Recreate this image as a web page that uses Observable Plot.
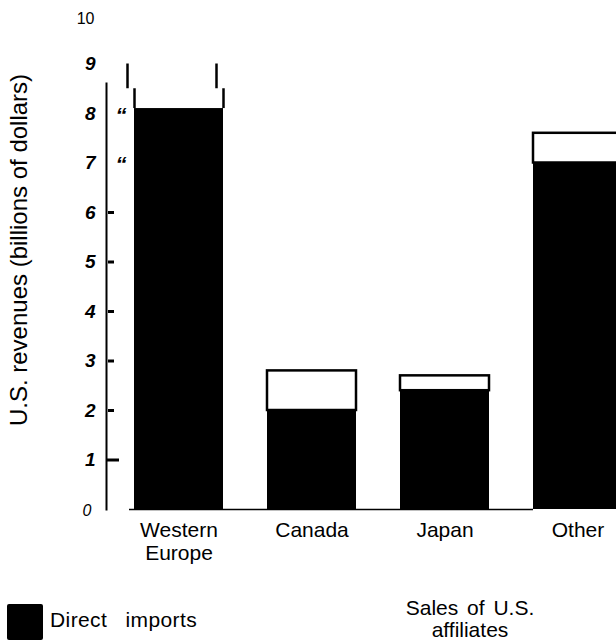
<!DOCTYPE html>
<html><head><meta charset="utf-8">
<script src="https://cdn.jsdelivr.net/npm/d3@7"></script>
<script src="https://cdn.jsdelivr.net/npm/@observablehq/plot@0.6"></script>
<style>
body{margin:0;background:#fff;font-family:"Liberation Sans",Arial,sans-serif;color:#000;}
#wrap{position:relative;width:616px;height:644px;overflow:hidden;background:#fff;}
#chart{position:absolute;left:0;top:0;}
.sw{position:absolute;left:7px;top:604px;width:36px;height:36px;background:#000;border-radius:2px;}
.lg1{position:absolute;left:50px;top:609px;font-size:21px;line-height:21px;word-spacing:12px;letter-spacing:0.4px;white-space:nowrap;}
.lg2{position:absolute;left:370px;top:597px;width:200px;text-align:center;font-size:21px;line-height:22px;word-spacing:3px;}
</style></head><body>
<div id="wrap"><div id="chart"></div>
<div class="sw"></div>
<div class="lg1">Direct imports</div>
<div class="lg2">Sales of U.S.<br>affiliates</div>
</div>
<script>
// Data (billions of dollars)
const categories = ["Western Europe", "Canada", "Japan", "Other"];
const directImports = [8.1, 2.0, 2.4, 7.0];
const affiliateSales = [null, 0.8, 0.3, 0.6]; // Western Europe bar runs past the broken axis
const brokenBar = "Western Europe";
const axisBreak = [8.5, 9.0]; // where the Western Europe bar is broken, and its visible top
const tickValues = [0, 1, 2, 3, 4, 5, 6, 7, 8, 9, 10];
const tickLabels = ["0", "1", "2", "3", "4", "5", "6", "7", "8", "9", "10"];
const yTitle = "U.S. revenues (billions of dollars)";

const rows = categories.map((c, i) => ({
  category: c,
  direct: directImports[i],
  affiliates: affiliateSales[i],
  total: affiliateSales[i] == null ? null : directImports[i] + affiliateSales[i]
}));
const whole = rows.filter(d => d.affiliates != null);
const broken = rows.filter(d => d.category === brokenBar);
const labelRows = tickValues.map((v, i) => ({v, t: tickLabels[i]}));
const boldLabels = labelRows.filter(d => d.v >= 1 && d.v <= 9);

const font = "'Liberation Sans', Arial, sans-serif";

const chart = Plot.plot({
  width: 616,
  height: 600,
  marginLeft: 106,
  marginRight: 0,
  marginTop: 14,
  marginBottom: 91,
  style: {fontFamily: font, background: "#fff", color: "#000"},
  x: {domain: categories, range: [90.1, 666], padding: 0.33, axis: null},
  y: {domain: [0, 10], axis: null},
  marks: [
    // affiliates (white segment with outline)
    Plot.barY(whole, {x: "category", y1: "direct", y2: "total", fill: "#fff", stroke: "#000", strokeWidth: 2.5}),
    // direct imports (black)
    Plot.barY(rows, {x: "category", y1: 0, y2: "direct", fill: "#000"}),
    // broken Western Europe bar: side lines only
    Plot.ruleX(broken, {x: "category", y1: "direct", y2: () => axisBreak[0], dx: -44.5, strokeWidth: 2.5}),
    Plot.ruleX(broken, {x: "category", y1: "direct", y2: () => axisBreak[0], dx: 44.5, strokeWidth: 2.5}),
    Plot.ruleX(broken, {x: "category", y1: () => axisBreak[0], y2: () => axisBreak[1], dx: -51.5, strokeWidth: 2.5}),
    Plot.ruleX(broken, {x: "category", y1: () => axisBreak[0], y2: () => axisBreak[1], dx: 37.5, strokeWidth: 2.5}),
    // baseline
    Plot.ruleY([0], {insetLeft: 23, insetRight: 83, strokeWidth: 1.5}),
    // y axis line (starts below the break)
    Plot.frame({anchor: "left", insetTop: 69, strokeWidth: 2}),
    // tick marks
    Plot.ruleY([2, 3, 4, 5, 6], {insetLeft: 2, insetRight: 502, strokeWidth: 3}),
    Plot.ruleY([1], {insetLeft: 1, insetRight: 497, strokeWidth: 3}),
    Plot.text([7, 8], {y: d => d, text: () => "\u201C", frameAnchor: "left", dx: 9, dy: 2, textAnchor: "start", fontSize: 22, fontWeight: "bold", fontStyle: "italic"}),
    // tick labels
    Plot.text(boldLabels, {y: "v", text: "t", frameAnchor: "left", dx: -11, textAnchor: "end", fontSize: 19, fontWeight: "bold", fontStyle: "italic"}),
    Plot.text(labelRows.filter(d => d.v === 10), {y: "v", text: "t", frameAnchor: "left", dx: -12, dy: 4, textAnchor: "end", fontSize: 16}),
    Plot.text(labelRows.filter(d => d.v === 0), {y: "v", text: "t", frameAnchor: "left", dx: -15, dy: 1, textAnchor: "end", fontSize: 16, fontStyle: "italic"}),
    // category labels
    Plot.text(categories, {x: d => d, text: d => d.replace(" ", "\n"), frameAnchor: "bottom", lineAnchor: "top", dy: 11, fontSize: 21, lineHeight: 1.1}),
    // y title
    Plot.text([yTitle], {text: d => d, frameAnchor: "left", textAnchor: "middle", rotate: -90, dx: -87, dy: -12, fontSize: 24})
  ]
});
document.getElementById("chart").appendChild(chart);
</script>
</body></html>
